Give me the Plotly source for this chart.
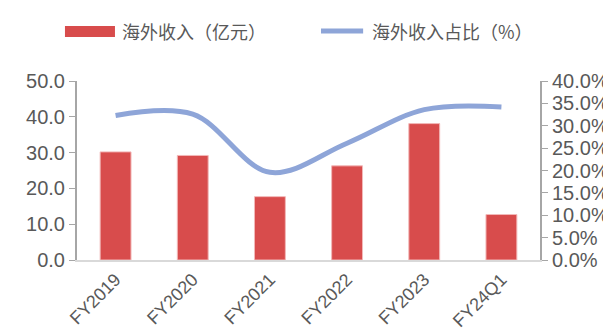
import plotly.graph_objects as go

categories = ["FY2019", "FY2020", "FY2021", "FY2022", "FY2023", "FY24Q1"]
revenue = [30.2, 29.2, 17.7, 26.3, 38.1, 12.7]
share = [32.3, 32.6, 19.6, 26.1, 33.6, 34.2]
left_ticks = [0, 10, 20, 30, 40, 50]
right_ticks = [0, 5, 10, 15, 20, 25, 30, 35, 40]
bar_name = "海外收入（亿元）"
line_name = "海外收入占比（%）"

BAR_COLOR = "#D84C4C"
LINE_COLOR = "#8EA5D8"
TEXT_COLOR = "#595959"

fig = go.Figure()
fig.add_trace(go.Bar(
    x=categories, y=revenue, name=bar_name,
    marker=dict(color=BAR_COLOR, line=dict(color="#F2B8B8", width=1)),
    width=0.4, yaxis="y", showlegend=False,
))
fig.add_trace(go.Scatter(
    x=categories, y=share, name=line_name,
    mode="lines", line=dict(color=LINE_COLOR, width=5, shape="spline", smoothing=1.0),
    yaxis="y2", showlegend=False,
))

tick_font = dict(family="Liberation Sans, Arial", size=20, color=TEXT_COLOR)
x_font = dict(family="Liberation Sans, Arial", size=18, color=TEXT_COLOR)
cjk_font = dict(family="Noto Sans CJK SC", size=18, color=TEXT_COLOR)

# custom legend (paper coordinates)
fig.add_shape(type="rect", xref="paper", yref="paper", x0=-0.026, x1=0.082, y0=1.246, y1=1.307,
              fillcolor=BAR_COLOR, line=dict(width=0))
fig.add_annotation(xref="paper", yref="paper", x=0.092, y=1.279, xanchor="left", yanchor="middle",
                   text=bar_name, showarrow=False, font=cjk_font)
fig.add_shape(type="line", xref="paper", yref="paper", x0=0.527, x1=0.618, y0=1.279, y1=1.279,
              line=dict(color=LINE_COLOR, width=5))
fig.add_annotation(xref="paper", yref="paper", x=0.632, y=1.279, xanchor="left", yanchor="middle",
                   text=line_name, showarrow=False, font=cjk_font)

fig.update_layout(
    width=611, height=331,
    margin=dict(l=69, r=79, t=73, b=79),
    paper_bgcolor="white", plot_bgcolor="white",
    showlegend=False,
    xaxis=dict(type="category", tickangle=-45, tickfont=x_font, automargin=False,
               ticklabelstandoff=0,
               showline=True, linecolor="#D9D9D9", linewidth=2, ticks="", showgrid=False),
    yaxis=dict(range=[0, 50], tickvals=left_ticks, ticktext=[f"{v:.1f}" for v in left_ticks],
               tickfont=tick_font, showline=True, linecolor="#A6A6A6", linewidth=2, automargin=False,
               ticks="outside", ticklen=6, tickcolor="#A6A6A6", showgrid=False, zeroline=False),
    yaxis2=dict(range=[0, 40], tickvals=right_ticks, ticktext=[f"{v:.1f}%" for v in right_ticks],
                tickfont=tick_font, overlaying="y", side="right", showline=True, automargin=False,
                linecolor="#A6A6A6", linewidth=2, ticks="outside", ticklen=6,
                tickcolor="#A6A6A6", showgrid=False, zeroline=False),
)
fig.write_html("out.html")
